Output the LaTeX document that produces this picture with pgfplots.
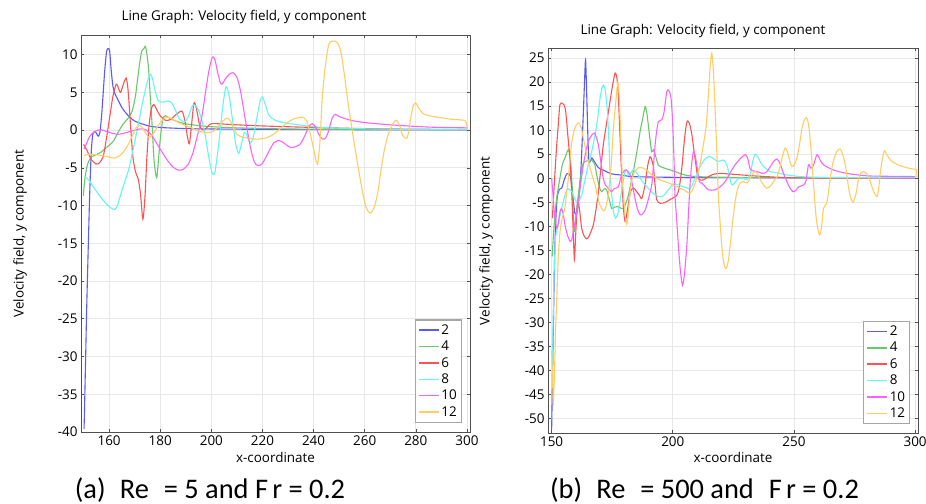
\documentclass[border=0pt]{standalone}
\usepackage{fontspec}
\setmainfont{Open Sans}
\newfontfamily\capfont{Carlito}
\usepackage{pgfplots}
\pgfplotsset{compat=1.18}
\definecolor{c2}{RGB}{90,90,245}
\definecolor{c4}{RGB}{105,200,105}
\definecolor{c6}{RGB}{250,85,85}
\definecolor{c8}{RGB}{100,245,245}
\definecolor{c10}{RGB}{250,100,250}
\definecolor{c12}{RGB}{255,205,100}
\definecolor{frame}{RGB}{80,80,80}
\pgfplotsset{
 comsol/.style={
  scale only axis,
  axis line style={draw=frame, line width=0.8bp},
  grid=major, major grid style={draw=gray!18, line width=0.8bp},
  tick align=inside, major tick length=3bp, tick style={frame, line width=0.6bp},
  tick label style={font=\fontsize{13.5}{15}\selectfont},
  /pgf/number format/assume math mode=true,
  /pgf/number format/1000 sep={},
  legend cell align=left,
  legend image code/.code={\draw[#1, line width=1.5bp] (0bp,0bp) -- (20bp,0bp);},
  legend style={font=\fontsize{13.5}{15.5}\selectfont, draw=gray!70, fill=white,
    inner sep=2.5bp, row sep=1.2bp, at={(0.979,0.023)}, anchor=south east},
  every axis legend/.append style={line width=1.2bp},
  every axis plot/.append style={line width=1.1bp, smooth, tension=0.45},
 }
}
\begin{document}
\begin{tikzpicture}
\useasboundingbox (0,0) rectangle (926bp,-504bp);
% ---------------- left panel ----------------
\begin{axis}[comsol, at={(81bp,-35bp)}, anchor=north west, width=389bp, height=397bp,
  xmin=149, xmax=301.2, ymin=-40, ymax=12.6,
  xtick={160,180,...,300}, ytick={-40,-35,...,10}]
\addplot[c2] coordinates {(150.2,-39.6) (150.7,-32) (151.2,-24) (151.8,-16) (152.4,-8.5) (153,-3) (153.6,-0.6) (154.3,-0.2) (155,-0.4) (155.7,-0.8) (156.4,-0.3) (157.2,2.5) (158.2,7.5) (159,10.4) (159.6,10.8) (160.2,10.5) (160.8,8) (161.5,5.8) (162.3,4.8) (163.5,4.0) (165,3.0) (167,2.1) (170,1.2) (175,0.6) (180,0.35) (190,0.2) (200,0.15) (230,0.08) (260,0.05) (300,0.03)};
\addlegendentry{2}
\addplot[c4] coordinates {(149.9,-8.7) (150.5,-6.5) (151.5,-4.6) (153,-3.6) (156.5,-3.0) (159,-2.3) (161.6,-1.5) (163.5,-0.3) (165.5,0.8) (167.5,1.6) (169,2.5) (170.3,4.5) (171.2,6.9) (172,9) (172.8,10.5) (173.6,10.8) (174.2,11.1) (174.8,10) (175.4,8.3) (176,5) (176.8,0.8) (177.6,-4.1) (178.6,-6.3) (179.3,-4) (180,-1.2) (181,1.4) (182,1.9) (184,1.5) (187,1.1) (190.5,0.8) (195,0.6) (200,0.45) (210,0.3) (230,0.15) (260,0.08) (300,0.04)};
\addlegendentry{4}
\addplot[c6] coordinates {(150,-1.9) (151.5,-2.8) (153,-3.9) (155,-4.5) (156.3,-4.3) (157.7,-3.5) (159,-1) (160.4,2.1) (161.5,4.5) (162.8,6.1) (163.6,5.6) (164.5,5.0) (165.5,6.0) (166.7,6.9) (167.5,5) (168.3,1) (169.3,-3.5) (170.3,-5.5) (171.4,-6.5) (172.3,-8.5) (173.2,-11.8) (174,-9) (174.8,-3.5) (175.6,0.5) (176.5,2.8) (177.5,3.4) (178.5,2.8) (180,1.9) (182,1.3) (184,1.4) (186,2.0) (188.5,2.5) (189.8,1) (190.6,-0.8) (191.4,-1.8) (192.2,0.5) (193.2,3.6) (194.2,2.8) (195.3,0.8) (196.3,0.1) (197.5,0.1) (199.6,0.8) (202,0.85) (210,0.7) (220,0.55) (240,0.35) (260,0.2) (280,0.12) (300,0.08)};
\addlegendentry{6}
\addplot[c8] coordinates {(150.5,-6.2) (152,-6.6) (154,-7.6) (156.5,-8.8) (159,-9.8) (161.6,-10.5) (163,-10.2) (165,-8) (167.5,-5.4) (169.5,-2.4) (171.4,0.75) (173,3.5) (174.5,5.8) (175.5,7) (176.2,7.4) (177,6.8) (178,5.2) (179.2,3.9) (181,3.7) (183,3.85) (184.5,3.6) (186,2.6) (187.5,1.5) (189.5,1.1) (191,1.8) (192.5,3.2) (193.8,3.3) (195,2.6) (196.2,1.4) (197.5,-0.5) (198.8,-3.2) (200,-5.3) (200.7,-5.9) (201.5,-5.4) (203,-1.5) (204.5,3.2) (205.5,5.5) (206,5.7) (207,4.5) (208.5,0.8) (209.5,-1.8) (210.7,-3.1) (211.8,-1.8) (212.8,-0.4) (213.6,-0.5) (215.3,-1.7) (216.5,-0.8) (218,2) (219.2,4.0) (220,4.4) (221,3.5) (222.5,2.0) (225,1.3) (230,0.9) (240,0.45) (250,0.25) (270,0.12) (300,0.06)};
\addlegendentry{8}
\addplot[c10] coordinates {(150.2,-2.5) (151,-1.9) (152.3,-0.9) (153.7,-0.35) (155.5,0) (157,0.05) (160,-0.3) (163.5,-0.55) (167,-0.3) (170,0) (172,0.15) (174,0.1) (176.5,-0.6) (178.5,-1.7) (180.5,-2.8) (183,-4.1) (185,-4.9) (187.1,-5.3) (189,-5.2) (191,-4.5) (192.8,-3) (194.5,-0.8) (196.2,1.6) (197.5,4.5) (198.8,7.4) (200,9.3) (200.7,9.7) (201.5,9.2) (202.5,7.6) (203.5,6.3) (204.2,6.1) (205.5,6.8) (207,7.4) (208.5,7.6) (210,7) (211.4,5.2) (213,2) (215.3,-2.3) (216.8,-4.2) (218.2,-4.7) (219.8,-4.5) (221.2,-3.7) (223,-2.5) (224.4,-1.7) (226,-1.4) (227.5,-1.5) (229.5,-2) (231,-2.3) (233,-2.2) (234.9,-1.8) (236.5,-0.8) (238.2,0.5) (239.5,0.85) (240.8,0.4) (242.1,-0.6) (243.3,-1.15) (244.3,-1.2) (245.5,-0.5) (247.3,1.6) (248.6,2.1) (250,1.8) (254.5,1.3) (260,1.0) (270,0.7) (285,0.4) (300,0.3)};
\addlegendentry{10}
\addplot[c12] coordinates {(150.2,-3.4) (152,-3.2) (155.7,-3.3) (159,-3.5) (162.2,-3.7) (164.5,-3.3) (166,-2.7) (167.5,-1.9) (169,-0.8) (170.7,0.4) (172,0.6) (173.5,0.1) (175.3,-0.9) (176.5,-0.8) (178,-0.1) (179.2,0.6) (180.8,1.3) (182.5,1.7) (184.5,1.5) (187.1,1.0) (190,0.6) (192.3,0.3) (195,-0.1) (198.2,-0.35) (200.5,-0.2) (202.5,0.4) (204.5,1.2) (206.2,1.6) (207.5,1.2) (209,0.1) (210.1,-0.6) (212,-0.9) (215.3,-1.1) (218,-1.2) (221.8,-1.0) (224.5,-0.5) (227,0.2) (229.7,1.0) (232.5,1.5) (235.6,1.7) (237.3,1.2) (238.8,-0.6) (240,-2.5) (241.5,-4.5) (242.5,-1.5) (243.4,4.3) (244.6,8.5) (246,11.4) (248,11.8) (249.5,11.5) (250.6,10.5) (252,7.5) (253.2,4.3) (254.5,1.3) (255.8,-1.5) (257.5,-5) (259.1,-8.1) (260.5,-10.2) (262.1,-11) (263.5,-10.4) (265,-8.5) (266.3,-5.5) (267.6,-2.8) (269,-0.8) (270.2,0.3) (271.3,1.0) (272.4,1.3) (273.6,0.7) (274.8,-0.7) (276.4,-1.1) (277.2,-0.2) (278,1.6) (279,3.2) (280,3.6) (281,3.0) (283.3,2.1) (288.5,1.7) (293.7,1.45) (298.9,1.3) (299.7,1.0) (300.3,0.1)};
\addlegendentry{12}
\end{axis}
% ---------------- right panel ----------------
\begin{axis}[comsol, at={(548bp,-48bp)}, anchor=north west, width=370bp, height=385bp,
  xmin=148.5, xmax=301.2, ymin=-53, ymax=27.1,
  xtick={150,200,250,300}, ytick={-50,-45,...,25}]
\addplot[c2] coordinates {(150,-52.4) (150.4,-40) (150.8,-28) (151.2,-17) (151.7,-9) (152.3,-4) (153.2,-2.3) (154.2,-2.0) (155.2,-0.3) (156.2,0.9) (157,1.0) (157.8,0.3) (158.6,-3) (159.6,-7.3) (160.5,-7) (161.2,-4.5) (162,1) (162.8,10) (163.5,19) (164,24.6) (164.5,17) (165,8) (165.4,3.5) (166,3.6) (166.6,4.2) (167.5,3.6) (169.3,2.2) (171.3,1.7) (174.8,0.9) (178.2,0.7) (183,0.35) (192,0.25) (210,0.15) (250,0.1) (300,0.08)};
\addlegendentry{2}
\addplot[c4] coordinates {(150.2,-16.3) (151,-10) (152,-4.5) (153.4,0) (154.5,3) (155.5,4.2) (156.4,5.5) (157.1,5.9) (157.8,3.5) (158.5,-2) (159.3,-11.1) (160,-8) (161,-3.5) (162,0.5) (163,3.1) (164.5,3.6) (166.5,3.8) (167.8,2.8) (168.6,0.7) (169.8,-2) (170.7,-2.8) (171.7,-2.2) (172.7,-2.4) (173.8,-4.5) (174.8,-6.3) (176,-6.0) (177.5,-5.9) (178.5,-6.2) (179.6,-6.3) (180.6,-5.2) (181.7,-3.5) (182.7,-1) (183.7,1.4) (185,5) (186.5,9.7) (187.6,12.5) (188.6,14.9) (189.3,13.5) (189.9,11.1) (190.6,8) (191.3,5.5) (192,5.9) (192.7,5) (194,2.8) (196,2.2) (198.5,1.8) (200.9,1.4) (204,0.8) (207,0.5) (212,0.3) (230,0.15) (260,0.1) (300,0.08)};
\addlegendentry{4}
\addplot[c6] coordinates {(150.3,-8.3) (151,-2) (151.6,3) (152.1,6.9) (152.8,11.5) (153.4,15.3) (154.4,15.6) (155.2,15.2) (155.8,13.9) (156.5,10) (157.6,3.5) (158.3,-3) (158.9,-11.1) (159.4,-17) (159.9,-12) (160.7,-4.9) (161.5,-6.5) (162.4,-10.4) (163.4,-12) (164.5,-12.6) (165.5,-12) (167.2,-9.7) (168.3,-6.5) (169.3,-2.8) (170.3,2) (171.3,6.9) (172.7,11.5) (174.1,16) (175.2,19.5) (176.2,21.9) (176.9,21) (177.5,17.4) (178.2,9) (178.9,0.7) (179.6,-6) (180.3,-9) (181,-7.5) (182.4,-3.1) (183.7,-2) (185.1,-2.8) (186.2,-3.5) (187.2,-4.2) (188.5,-1.5) (189.6,2.5) (190.6,4.5) (191.3,3.8) (192,2.4) (192.7,-1.5) (193.4,-4.5) (194.8,-5.2) (197,-5.0) (199,-4.4) (201.7,-3.5) (202.8,-1.5) (203.8,2.5) (204.8,8) (205.7,11.5) (206.3,11.9) (207.1,11) (207.9,9) (208.8,5.5) (209.5,3) (210.2,0.5) (211,-0.3) (212.6,-0.35) (214.3,0.2) (216.5,0.8) (219.5,1.0) (223,0.9) (228.2,0.7) (235,0.45) (246.2,0.15) (260,0.05) (300,0.0)};
\addlegendentry{6}
\addplot[c8] coordinates {(150.3,-43.6) (150.6,-30) (151,-20) (151.7,-12) (152.7,-9.7) (153.8,-7) (154.8,-4.9) (156.2,-2.4) (157.3,-2.3) (158.3,-2.8) (159.3,-4) (160.3,-4.9) (161.3,-4.6) (162.4,-3.5) (163.7,-0.5) (165.1,2.8) (166.5,5.5) (167.9,9.0) (169,12.5) (170,16.7) (170.8,18.8) (171.5,19.4) (172.2,18) (173,13.9) (173.6,8) (174.1,1.4) (174.8,-3.5) (175.5,-7) (176.4,-8.3) (177.3,-7.5) (178.2,-4.9) (179.2,-1.5) (180.3,1.4) (181,1.8) (181.7,0.6) (182.5,1) (183.7,1.8) (185,1.2) (186.5,0) (188,-1) (189.9,-2.1) (192,-3.2) (194,-3.8) (195.5,-3.8) (196.8,-3.3) (198.5,-2.2) (200.2,-1.2) (201.7,-1.3) (204.5,-1.8) (207.1,-2.1) (208.8,-0.5) (210.6,1.7) (212.5,3.5) (214,4.3) (215.4,4.5) (217,4) (218.8,3.5) (220.9,3.8) (222.5,2.5) (223.5,0) (224.4,-1.4) (225.5,-1.0) (227.1,0) (229,0) (230.6,-0.3) (232,1) (233,3.5) (234,5.0) (235.3,4.2) (236.8,2.8) (238.5,2.0) (240.2,1.4) (244.3,1.0) (247.1,0.7) (252.6,0.35) (260,0.2) (280,0.12) (300,0.1)};
\addlegendentry{8}
\addplot[c10] coordinates {(150,0) (150.5,-3) (151,-6.5) (151.4,-8.3) (152.1,-10.4) (152.7,-9.5) (153.4,-7) (154.1,-6.3) (154.8,-7.5) (155.5,-9.7) (156.5,-11.8) (157.6,-13.1) (158.3,-12.8) (158.9,-11.1) (160,-8.3) (161,-4.9) (162,-1) (163.1,2.8) (164.1,5.5) (165.1,7.6) (166.3,8.8) (167.6,9.4) (168.4,8.6) (169.3,6.9) (170.3,3.5) (171.3,0) (172.3,-1.5) (173.4,-2.1) (174.8,-2.8) (175.5,-2.3) (176.2,-2.1) (177.5,-1.8) (178.2,-0.6) (178.9,0.7) (180.3,1.7) (181.3,1.5) (182.4,0.7) (183.4,-1.5) (184.4,-4.2) (185.5,-6.5) (186.5,-7.6) (187.5,-7.4) (188.6,-6.6) (190,-4.2) (191.3,-1.4) (192,2.5) (192.7,6.9) (193.4,10) (194.1,11.8) (195.5,12.2) (196.3,13.5) (196.8,15.3) (197.5,18) (198,18.4) (198.6,18.1) (199.3,16.5) (199.9,12) (200.5,4) (200.9,-3.5) (201.6,-8.5) (202.3,-13.9) (203.1,-19) (204,-22.3) (204.8,-20) (205.8,-13.9) (206.5,-7) (207.1,-1.4) (207.8,3) (208.5,5.5) (209.2,4.8) (209.9,2.8) (211,-0.7) (212,-1) (214.7,-2.4) (217.5,-2.4) (219.5,-1.8) (221.6,-0.7) (223.5,1) (225.7,2.8) (227.7,4) (229.9,4.9) (231,4) (231.9,2) (233.3,1.5) (234.7,1.4) (237.4,1) (239,1.5) (240.2,2.4) (241.6,3.5) (243,4.0) (244.3,3) (245.7,1) (247.1,-0.7) (248.3,-2) (249.6,-2.8) (250.8,-2.5) (251.9,-1.8) (254,-1.4) (255,-0.5) (256,2.8) (257,2.1) (258.1,2.8) (259.5,4.9) (260.8,3.8) (262.2,2.8) (266.4,1.7) (271.9,1.0) (280.2,0.5) (290,0.4) (300,0.35)};
\addlegendentry{10}
\addplot[c12] coordinates {(150,-35.8) (150.4,-42) (150.7,-46.8) (151.2,-40) (151.6,-32) (152.1,-25.3) (152.7,-17) (153.4,-11.4) (154.1,-9) (154.8,-7.5) (155.5,-6) (156.2,-3) (156.9,0) (157.6,4) (158.3,7.6) (159.5,10.3) (160.5,11.3) (161.3,11.5) (162.2,10.5) (163.1,8.3) (164.1,5.8) (165.1,3.5) (166.5,1) (167.9,-1.4) (169,-3.8) (170,-5.6) (171,-6.6) (172,-6.6) (173.2,-4) (174.1,0) (174.8,4.5) (175.5,10.4) (176.4,15.5) (177.3,20) (177.8,18) (178.3,12) (178.8,5) (179.2,0) (179.8,-4.5) (180.3,-7.6) (181,-9.6) (181.6,-7.5) (182.4,-2.8) (183.4,0.3) (184.4,1.4) (185.8,2.2) (187.9,2.1) (189.6,1.5) (191.3,0.7) (194,-0.2) (196.8,-0.7) (200.2,-1.4) (202.3,-1.9) (204.4,-2.4) (207.1,-3.1) (208.5,-2) (209.9,0) (211.3,3) (212.6,6.9) (213.8,11) (214.7,17.4) (215.4,23) (216.1,26) (216.8,22) (217.5,13.9) (218.2,5) (218.8,-3.5) (219.5,-9) (220.2,-13.9) (221,-17.5) (221.9,-18.8) (222.8,-17.5) (223.7,-13.9) (224.7,-9) (225.7,-4.9) (226.7,-2.3) (227.8,-1) (229.2,-0.7) (230.6,-1) (231.9,0) (233.3,1.2) (234.5,1.3) (235.8,0) (237.3,-1.3) (238.8,-2.1) (240.5,-1.5) (241.8,-0.5) (243,0.3) (244.3,2.5) (245.5,5) (246.4,6.3) (247.3,5.5) (248.3,3.5) (249.2,2.4) (250.2,2.9) (251.2,4.2) (252.3,7) (253.3,10.4) (254.2,12) (255.1,12.6) (255.8,11.8) (256.4,9.7) (257.2,5) (258.1,-1.4) (259.2,-8.3) (260.5,-11.8) (261.4,-10) (262.2,-6.3) (263.6,-5) (265,0) (266,3) (267.1,4.9) (268,5.8) (269.1,6.1) (270.2,4.8) (271.2,2.8) (272.6,-2.1) (273.5,-4.2) (274.4,-5.0) (275.5,-3.5) (276.7,0) (277.8,1.2) (278.8,1.4) (279.8,1) (280.8,0.35) (282.9,-2.8) (284.3,-3.8) (285,-2) (285.7,1.4) (286.5,4) (287.3,5.7) (288.5,4.8) (289.8,3.8) (291.8,3.1) (293.9,2.6) (296.5,2.2) (299.4,1.9) (300.5,1.8) (300.8,0.2)};
\addlegendentry{12}
\end{axis}
% ---------------- texts ----------------
\node[font=\fontsize{13.5}{15}\selectfont, anchor=base] at (244bp,-20bp) {Line Graph: Velocity field, y component};
\node[font=\fontsize{13.5}{15}\selectfont, anchor=base] at (703bp,-34bp) {Line Graph: Velocity field, y component};
\node[font=\fontsize{13.5}{15}\selectfont, anchor=base] at (275.5bp,-462bp) {x-coordinate};
\node[font=\fontsize{13.5}{15}\selectfont, anchor=base] at (733bp,-462bp) {x-coordinate};
\node[font=\fontsize{13.5}{15}\selectfont, rotate=90] at (20bp,-233.5bp) {Velocity field, y component};
\node[font=\fontsize{13.5}{15}\selectfont, rotate=90] at (486bp,-241bp) {Velocity field, y component};
\node[font=\capfont\fontsize{28.5}{32}\selectfont, anchor=base] at (210bp,-498bp) {(a)\hspace{0.5em}Re\hspace{0.3em} = 5 and F\hspace{0.15em}r = 0.2};
\node[font=\capfont\fontsize{28.5}{32}\selectfont, anchor=base] at (704.5bp,-498bp) {(b)\hspace{0.5em}Re\hspace{0.3em} = 500 and\hspace{0.3em} F\hspace{0.15em}r = 0.2};
\end{tikzpicture}
\end{document}
